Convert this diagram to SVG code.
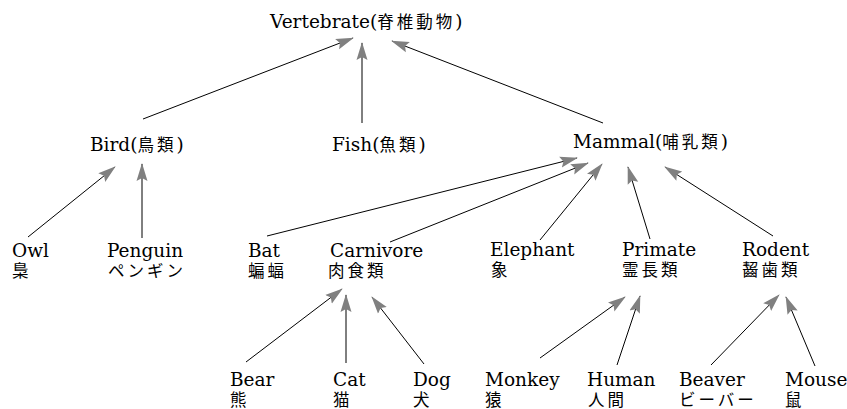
<svg xmlns="http://www.w3.org/2000/svg" width="847" height="409" viewBox="0 0 847 409">
<style>
  text { font-family: "DejaVu Serif", "Noto Sans CJK JP", serif; font-size: 18.5px; fill: #000; }
  .c { font-family: "Noto Sans CJK JP", sans-serif; font-size: 16.5px; letter-spacing: 3px; }
  .edge { stroke: #000; stroke-width: 1; fill: none; marker-end: url(#ah); }
</style>
<defs>
  <marker id="ah" markerUnits="userSpaceOnUse" markerWidth="18" markerHeight="12" refX="17" refY="6" orient="auto">
    <path d="M0,0.5 L18,6 L0,11.5 L3,6 z" fill="#808080"/>
  </marker>
</defs>
<rect width="847" height="409" fill="#fff"/>
<g id="connectors">
  <line class="edge" x1="143" y1="119" x2="353" y2="38"/>
  <line class="edge" x1="362" y1="123" x2="362" y2="43"/>
  <line class="edge" x1="603" y1="123" x2="392" y2="41"/>
  <line class="edge" x1="28" y1="237" x2="115" y2="167"/>
  <line class="edge" x1="142" y1="238" x2="142" y2="164"/>
  <line class="edge" x1="267" y1="236" x2="577" y2="158"/>
  <line class="edge" x1="390" y1="242" x2="588" y2="163"/>
  <line class="edge" x1="540" y1="240" x2="602" y2="164"/>
  <line class="edge" x1="650" y1="239" x2="628" y2="167"/>
  <line class="edge" x1="773" y1="236" x2="665" y2="167"/>
  <line class="edge" x1="246" y1="362" x2="342" y2="289"/>
  <line class="edge" x1="346" y1="363" x2="346" y2="295"/>
  <line class="edge" x1="424" y1="364" x2="372" y2="297"/>
  <line class="edge" x1="540" y1="358" x2="625" y2="297"/>
  <line class="edge" x1="617" y1="365" x2="640" y2="296"/>
  <line class="edge" x1="711" y1="365" x2="779" y2="295"/>
  <line class="edge" x1="815" y1="366" x2="786" y2="297"/>
</g>
<g id="vertebrate"><text x="270" y="28">Vertebrate(<tspan class="c">脊椎動物</tspan>)</text></g>
<g id="bird"><text x="90" y="151">Bird(<tspan class="c">鳥類</tspan>)</text></g>
<g id="fish"><text x="332" y="151">Fish(<tspan class="c">魚類</tspan>)</text></g>
<g id="mammal"><text x="573" y="148">Mammal(<tspan class="c">哺乳類</tspan>)</text></g>
<g id="owl"><text x="12" y="257">Owl<tspan class="c" x="12" dy="19.5">梟</tspan></text></g>
<g id="penguin"><text x="107" y="257">Penguin<tspan class="c" x="108" dy="19.5">ペンギン</tspan></text></g>
<g id="bat"><text x="248" y="257">Bat<tspan class="c" x="248" dy="19.5">蝙蝠</tspan></text></g>
<g id="carnivore"><text x="330" y="257">Carnivore<tspan class="c" x="328" dy="19.5">肉食類</tspan></text></g>
<g id="elephant"><text x="490" y="256">Elephant<tspan class="c" x="491" dy="20">象</tspan></text></g>
<g id="primate"><text x="622" y="256">Primate<tspan class="c" x="622" dy="20">霊長類</tspan></text></g>
<g id="rodent"><text x="742" y="256">Rodent<tspan class="c" x="742" dy="20">齧歯類</tspan></text></g>
<g id="bear"><text x="230" y="386">Bear<tspan class="c" x="230" dy="19.5">熊</tspan></text></g>
<g id="cat"><text x="333" y="386">Cat<tspan class="c" x="333" dy="19.5">猫</tspan></text></g>
<g id="dog"><text x="413" y="386">Dog<tspan class="c" x="413" dy="19.5">犬</tspan></text></g>
<g id="monkey"><text x="485" y="386">Monkey<tspan class="c" x="485" dy="19.5">猿</tspan></text></g>
<g id="human"><text x="587" y="386">Human<tspan class="c" x="588" dy="19.5">人間</tspan></text></g>
<g id="beaver"><text x="679" y="386">Beaver<tspan class="c" x="679" dy="19.5">ビーバー</tspan></text></g>
<g id="mouse"><text x="785" y="386">Mouse<tspan class="c" x="785" dy="19.5">鼠</tspan></text></g>
</svg>
